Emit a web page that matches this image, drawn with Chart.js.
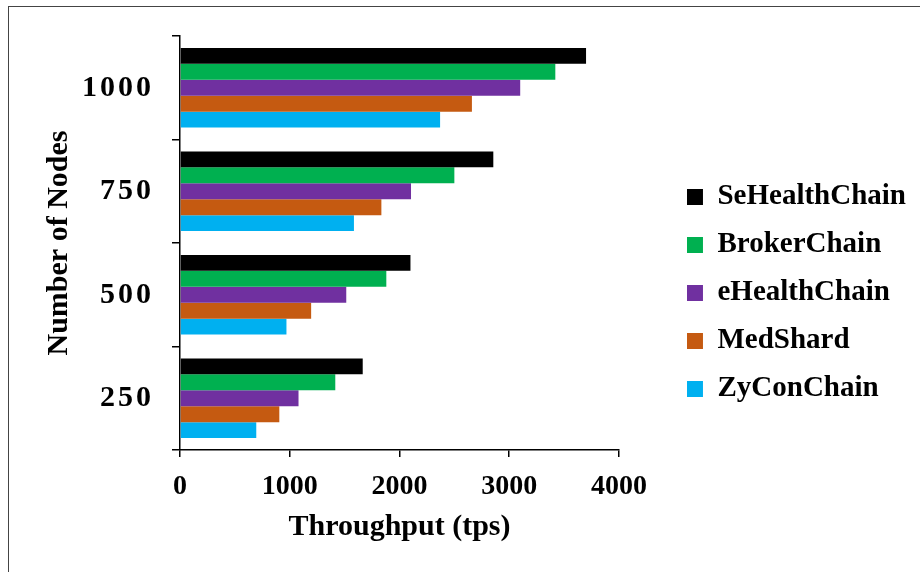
<!DOCTYPE html>
<html>
<head>
<meta charset="utf-8">
<script src="https://cdn.jsdelivr.net/npm/chart.js@4.4.1/dist/chart.umd.min.js"></script>
<style>
  html, body { margin: 0; padding: 0; background: #fff; }
  #wrap { position: relative; width: 920px; height: 572px; overflow: hidden; }
  #frame { position: absolute; left: 8px; top: 6px; width: 940px; height: 600px; border: 1px solid #444; }
  canvas { position: absolute; left: 0; top: 0; }
</style>
</head>
<body>
<div id="wrap">
  <div id="frame"></div>
  <canvas id="chart" width="920" height="572"></canvas>
</div>
<script>
'use strict'
const nodes = ['1000', '750', '500', '250']
const seHealthChain = [3700, 2855, 2100, 1665]
const brokerChain = [3420, 2500, 1880, 1415]
const eHealthChain = [3100, 2105, 1515, 1080]
const medShard = [2660, 1835, 1195, 905]
const zyConChain = [2370, 1585, 970, 695]
const xTicks = [0, 1000, 2000, 3000, 4000]

const serif = 'Liberation Serif, Times New Roman, serif'
const bold = (size) => ({ family: serif, size: size, weight: 'bold' })

const bar = (label, data, color) => ({
  label: label,
  data: data,
  backgroundColor: color,
  borderWidth: 0,
  categoryPercentage: 0.77,
  barPercentage: 1.0
})

// spaced-out digits on the category axis, like the original
const spaceLabels = (scale) => {
  if (scale._spaced) return
  scale._spaced = true
  const draw = scale.drawLabels.bind(scale)
  scale.drawLabels = (area) => {
    scale.ctx.save()
    scale.ctx.letterSpacing = '3px'
    draw(area)
    scale.ctx.restore()
  }
}

const chart = new Chart(document.getElementById('chart'), {
  type: 'bar',
  data: {
    labels: nodes,
    datasets: [
      bar('SeHealthChain', seHealthChain, '#000000'),
      bar('BrokerChain', brokerChain, '#00B050'),
      bar('eHealthChain', eHealthChain, '#7030A0'),
      bar('MedShard', medShard, '#C55A11'),
      bar('ZyConChain', zyConChain, '#00B0F0')
    ]
  },
  options: {
    indexAxis: 'y',
    responsive: false,
    animation: false,
    layout: { padding: { top: 14, right: 4, bottom: 0, left: 0 } },
    plugins: {
      tooltip: { enabled: false },
      legend: {
        position: 'right',
        maxWidth: 400,
        labels: {
          font: bold(29),
          color: '#000',
          boxWidth: 16,
          boxHeight: 16,
          padding: 19
        }
      }
    },
    scales: {
      y: {
        grid: { drawOnChartArea: false, drawTicks: true, tickLength: 8, color: '#000', lineWidth: 1.5, offset: true },
        border: { display: true, color: '#000', width: 1.5 },
        ticks: { font: bold(30), color: '#000', padding: 18 },
        title: { display: true, text: 'Number of Nodes', font: bold(30), color: '#000', padding: { top: 41, bottom: 0 } },
        afterFit: (s) => { s.width = 180; spaceLabels(s) }
      },
      x: {
        min: 0,
        max: 4000,
        afterBuildTicks: (s) => { s.ticks = xTicks.map(v => ({ value: v })) },
        grid: { drawOnChartArea: false, drawTicks: true, tickLength: 7, color: '#000', lineWidth: 1.5 },
        border: { display: true, color: '#000', width: 1.5 },
        ticks: { font: bold(28), color: '#000', padding: 13, callback: (v) => String(v) },
        title: { display: true, text: 'Throughput (tps)', font: bold(30), color: '#000', padding: { top: 0, bottom: 27 } },
        afterFit: (s) => { s.height = 122 }
      },
      padTop: {
        type: 'linear',
        position: 'top',
        axis: 'x',
        grid: { display: false },
        border: { display: false },
        ticks: { display: false },
        afterFit: (s) => { s.height = 20 }
      },
      padRight: {
        type: 'linear',
        position: 'right',
        axis: 'y',
        grid: { display: false },
        border: { display: false },
        ticks: { display: false },
        afterFit: (s) => { s.width = 49 }
      }
    }
  }
})
</script>
</body>
</html>
